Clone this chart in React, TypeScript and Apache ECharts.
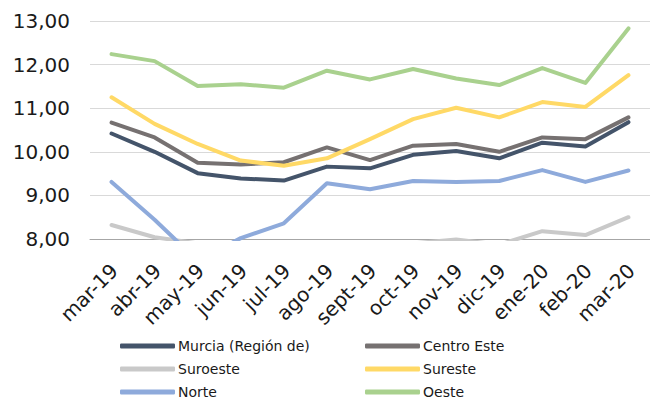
import React, { useEffect, useRef } from "react";
import * as echarts from "echarts";

const categories = ["mar-19", "abr-19", "may-19", "jun-19", "jul-19", "ago-19", "sept-19", "oct-19", "nov-19", "dic-19", "ene-20", "feb-20", "mar-20"];

const murcia = [10.42, 10.0, 9.51, 9.39, 9.34, 9.66, 9.62, 9.93, 10.02, 9.85, 10.21, 10.12, 10.68];
const centroEste = [10.67, 10.33, 9.75, 9.71, 9.76, 10.1, 9.81, 10.14, 10.18, 10.0, 10.33, 10.29, 10.79];
const suroeste = [8.32, 8.04, 7.9, 7.75, 7.7, 7.8, 7.8, 7.9, 7.99, 7.87, 8.18, 8.09, 8.5];
const sureste = [11.25, 10.64, 10.18, 9.8, 9.68, 9.85, 10.29, 10.75, 11.01, 10.79, 11.14, 11.03, 11.76];
const norte = [9.31, 8.44, 7.5, 8.02, 8.36, 9.28, 9.14, 9.33, 9.31, 9.33, 9.58, 9.31, 9.57];
const oeste = [12.24, 12.08, 11.51, 11.55, 11.47, 11.86, 11.66, 11.9, 11.68, 11.53, 11.92, 11.58, 12.83];

const seriesNames = ["Murcia (Región de)", "Centro Este", "Suroeste", "Sureste", "Norte", "Oeste"];
const seriesColors = ["#44546a", "#767171", "#c9c9c9", "#ffd966", "#8eaadb", "#a9d18e"];
const seriesData = [murcia, centroEste, suroeste, sureste, norte, oeste];

const FONT = "DejaVu Sans";

export default function App() {
  const ref = useRef<HTMLDivElement>(null);
  useEffect(() => {
    if (!ref.current) return;
    const chart = echarts.init(ref.current, null, { renderer: "svg" });
    const legendCommon = {
      orient: "vertical" as const,
      top: 338,
      icon: "roundRect",
      itemWidth: 55,
      itemHeight: 5,
      itemGap: 7,
      textStyle: { fontFamily: FONT, fontSize: 14, color: "#1a1a1a", lineHeight: 16, padding: [0, 0, 0, -2] },
      padding: 0,
    };
    chart.setOption({
      animation: false,
      backgroundColor: "#ffffff",
      legend: [
        { ...legendCommon, left: 120, data: [seriesNames[0], seriesNames[2], seriesNames[4]] },
        { ...legendCommon, left: 365, data: [seriesNames[1], seriesNames[3], seriesNames[5]] },
      ],
      grid: { left: 90, top: 21, width: 567, height: 218 },
      xAxis: {
        type: "category",
        data: categories,
        boundaryGap: true,
        axisTick: { show: false },
        axisLine: { show: true, lineStyle: { color: "#a6a6a6", width: 1 } },
        axisLabel: {
          rotate: 45,
          margin: 17,
          interval: 0,
          align: "right",
          verticalAlign: "top",
          padding: [0, 6, 0, 0],
          fontFamily: FONT,
          fontSize: 20,
          color: "#1a1a1a",
        },
      },
      yAxis: {
        type: "value",
        min: 8,
        max: 13,
        interval: 1,
        axisLine: { show: false },
        axisTick: { show: false },
        splitLine: { lineStyle: { color: "#d9d9d9", width: 1 } },
        axisLabel: {
          margin: 20,
          fontFamily: FONT,
          fontSize: 20,
          color: "#1a1a1a",
          formatter: (v: number) => v.toFixed(2).replace(".", ","),
        },
      },
      series: seriesNames.map((name, i) => ({
        name,
        type: "line",
        data: seriesData[i],
        symbol: "none",
        clip: true,
        color: seriesColors[i],
        lineStyle: { width: 4, color: seriesColors[i], cap: "round", join: "round" },
      })),
    });
    return () => chart.dispose();
  }, []);
  return <div ref={ref} style={{ position: "fixed", left: 0, top: 0, width: 650, height: 400 }} />;
}
